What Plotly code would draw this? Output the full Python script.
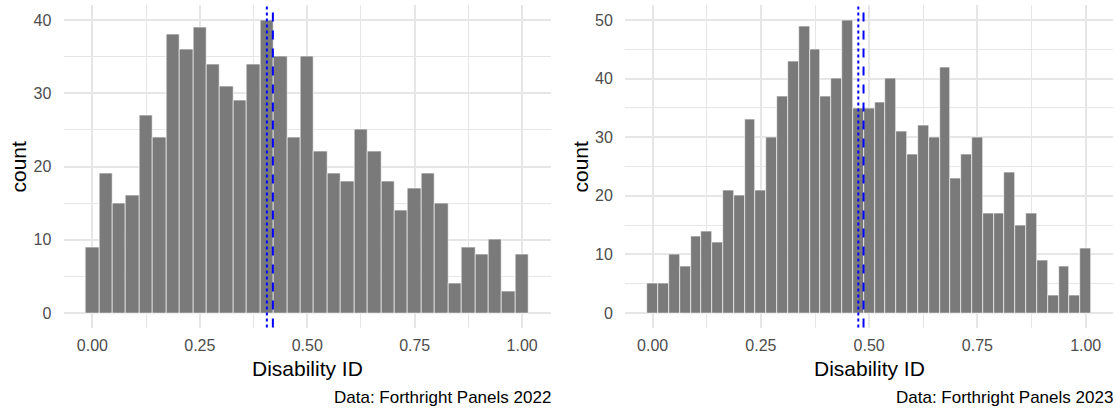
import numpy as np
import plotly.graph_objects as go

# Histogram counts for the Disability ID score (0..1), one list per panel year
counts_2022 = [9, 19, 15, 16, 27, 24, 38, 36, 39, 34, 31, 29, 34, 40, 35, 24, 35,
               22, 19, 18, 25, 22, 18, 14, 17, 19, 15, 4, 9, 8, 10, 3, 8]
counts_2023 = [5, 5, 10, 8, 13, 14, 12, 21, 20, 33, 21, 30, 37, 43, 49, 45, 37, 40,
               50, 35, 35, 36, 40, 31, 27, 32, 30, 42, 23, 27, 30, 17, 17, 24, 15,
               17, 9, 3, 8, 3, 11]

# Median (dotted) and mean (dashed) reference lines
median_2022, mean_2022 = 0.406, 0.420
median_2023, mean_2023 = 0.475, 0.487

captions = ["Data: Forthright Panels 2022", "Data: Forthright Panels 2023"]
x_tick_vals = [0, 0.25, 0.5, 0.75, 1.0]
x_tick_text = ["0.00", "0.25", "0.50", "0.75", "1.00"]

FONT = "Liberation Sans, Arial, Helvetica, sans-serif"
BAR = "#7a7a7a"
GRID = "#e6e6e6"
TICK = "#4d4d4d"

W, H = 1116, 410


def centers(counts):
    n = len(counts)
    w = 1.0 / (n - 1)
    return np.arange(n) * w, w


fig = go.Figure()

panels = [
    dict(counts=counts_2022, med=median_2022, mean=mean_2022, ytop=40,
         xdom=(63.5, 551.0), sfx=""),
    dict(counts=counts_2023, med=median_2023, mean=mean_2023, ytop=50,
         xdom=(625.0, 1113.3), sfx="2"),
]

y_top_px, y_bot_px = 5.4, 327.6
ydom = [1 - y_bot_px / H, 1 - y_top_px / H]

for i, p in enumerate(panels):
    xc, w = centers(p["counts"])
    xa = "x" + p["sfx"]
    ya = "y" + p["sfx"]
    fig.add_trace(go.Bar(
        x=xc, y=p["counts"], width=w,
        marker=dict(color=BAR, line=dict(color="white", width=0.6)),
        xaxis=xa, yaxis=ya, showlegend=False, hoverinfo="x+y",
    ))
    lo = -w / 2
    hi = 1 + w / 2
    pad = (hi - lo) * 0.05
    ypad = p["ytop"] * 0.05
    axis_common = dict(showline=False, zeroline=False, gridcolor=GRID, gridwidth=1.6,
                       tickfont=dict(family=FONT, size=16, color=TICK))
    fig.layout["xaxis" + p["sfx"]] = dict(
        domain=[p["xdom"][0] / W, p["xdom"][1] / W], anchor=ya,
        range=[lo - pad, hi + pad], tickvals=x_tick_vals, ticktext=x_tick_text,
        ticks="outside", ticklen=3, tickcolor="rgba(0,0,0,0)",
        minor=dict(tickvals=[0.125, 0.375, 0.625, 0.875], showgrid=True,
                   gridcolor=GRID, gridwidth=1),
        **axis_common)
    fig.layout["yaxis" + p["sfx"]] = dict(
        domain=ydom, anchor=xa, range=[-ypad, p["ytop"] + ypad],
        tickvals=list(range(0, p["ytop"] + 1, 10)),
        ticks="outside", ticklen=8, tickcolor="rgba(0,0,0,0)",
        minor=dict(tickvals=list(range(5, p["ytop"], 10)), showgrid=True,
                   gridcolor=GRID, gridwidth=1),
        **axis_common)
    for val, dash in ((p["med"], "dot"), (p["mean"], "dash")):
        fig.add_shape(type="line", xref=xa, yref=ya + " domain", x0=val, x1=val,
                      y0=0, y1=1, line=dict(color="#0000ff", width=2, dash=dash),
                      layer="above")
    cx = (p["xdom"][0] + p["xdom"][1]) / 2 / W
    fig.add_annotation(text="Disability ID", xref="paper", yref="paper", x=cx,
                       y=1 - 368 / H, showarrow=False, xanchor="center", yanchor="middle",
                       font=dict(family=FONT, size=21, color="#000000"))
    fig.add_annotation(text=captions[i], xref="paper", yref="paper",
                       x=(p["xdom"][1] + 1.5) / W, y=1 - 397 / H, showarrow=False,
                       xanchor="right", yanchor="middle",
                       font=dict(family=FONT, size=17, color="#000000"))
    fig.add_annotation(text="count", xref="paper", yref="paper",
                       x=(18 if i == 0 else 580) / W, y=1 - 166.5 / H,
                       textangle=-90, showarrow=False, xanchor="center",
                       yanchor="middle",
                       font=dict(family=FONT, size=21, color="#000000"))

fig.update_layout(
    width=W, height=H, margin=dict(l=0, r=0, t=0, b=0),
    plot_bgcolor="white", paper_bgcolor="white", bargap=0,
    font=dict(family=FONT),
)

fig.write_html("out.html")
